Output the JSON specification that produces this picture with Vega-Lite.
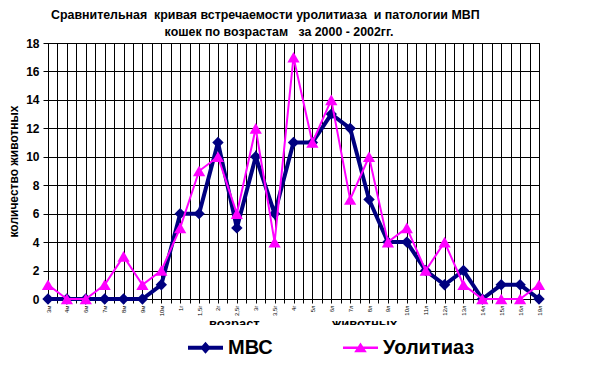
{
  "$schema": "https://vega.github.io/schema/vega-lite/v6.json",
  "width": 491,
  "height": 256,
  "autosize": "none",
  "padding": {"left": 48, "top": 43, "right": 75, "bottom": 81},
  "background": "white",
  "config": {
    "font": "Liberation Sans",
    "view": {"stroke": "black", "strokeWidth": 1}
  },
  "title": {
    "text": ["Сравнительная\u00a0 кривая встречаемости уролитиаза\u00a0 и патологии МВП", "\u200b\u00a0\u00a0\u00a0\u00a0\u00a0\u00a0\u00a0\u00a0\u00a0\u00a0\u00a0\u00a0\u00a0\u00a0\u00a0\u00a0\u00a0\u00a0\u00a0\u00a0\u00a0\u00a0\u00a0\u00a0\u00a0\u00a0\u00a0\u00a0\u00a0\u00a0\u00a0\u00a0\u00a0кошек по возрастам\u00a0\u00a0 за 2000 - 2002гг."],
    "anchor": "start",
    "frame": "group",
    "dx": 3,
    "offset": -1,
    "font": "Liberation Sans",
    "fontSize": 12.4,
    "fontWeight": "bold",
    "color": "black",
    "lineHeight": 17
  },
  "data": {
    "values": [
      {"i": 0, "age": "3м", "series": "МВС", "value": 0},
      {"i": 1, "age": "4м", "series": "МВС", "value": 0},
      {"i": 2, "age": "6м", "series": "МВС", "value": 0},
      {"i": 3, "age": "7м", "series": "МВС", "value": 0},
      {"i": 4, "age": "8м", "series": "МВС", "value": 0},
      {"i": 5, "age": "9м", "series": "МВС", "value": 0},
      {"i": 6, "age": "10м", "series": "МВС", "value": 1},
      {"i": 7, "age": "1г", "series": "МВС", "value": 6},
      {"i": 8, "age": "1,5г", "series": "МВС", "value": 6},
      {"i": 9, "age": "2г", "series": "МВС", "value": 11},
      {"i": 10, "age": "2,5г", "series": "МВС", "value": 5},
      {"i": 11, "age": "3г", "series": "МВС", "value": 10},
      {"i": 12, "age": "3,5г", "series": "МВС", "value": 6},
      {"i": 13, "age": "4г", "series": "МВС", "value": 11},
      {"i": 14, "age": "5л", "series": "МВС", "value": 11},
      {"i": 15, "age": "6л", "series": "МВС", "value": 13},
      {"i": 16, "age": "7л", "series": "МВС", "value": 12},
      {"i": 17, "age": "8л", "series": "МВС", "value": 7},
      {"i": 18, "age": "9л", "series": "МВС", "value": 4},
      {"i": 19, "age": "10л", "series": "МВС", "value": 4},
      {"i": 20, "age": "11л", "series": "МВС", "value": 2},
      {"i": 21, "age": "12л", "series": "МВС", "value": 1},
      {"i": 22, "age": "13л", "series": "МВС", "value": 2},
      {"i": 23, "age": "14л", "series": "МВС", "value": 0},
      {"i": 24, "age": "15л", "series": "МВС", "value": 1},
      {"i": 25, "age": "16л", "series": "МВС", "value": 1},
      {"i": 26, "age": "19л", "series": "МВС", "value": 0},
      {"i": 0, "age": "3м", "series": "Уолитиаз", "value": 1},
      {"i": 1, "age": "4м", "series": "Уолитиаз", "value": 0},
      {"i": 2, "age": "6м", "series": "Уолитиаз", "value": 0},
      {"i": 3, "age": "7м", "series": "Уолитиаз", "value": 1},
      {"i": 4, "age": "8м", "series": "Уолитиаз", "value": 3},
      {"i": 5, "age": "9м", "series": "Уолитиаз", "value": 1},
      {"i": 6, "age": "10м", "series": "Уолитиаз", "value": 2},
      {"i": 7, "age": "1г", "series": "Уолитиаз", "value": 5},
      {"i": 8, "age": "1,5г", "series": "Уолитиаз", "value": 9},
      {"i": 9, "age": "2г", "series": "Уолитиаз", "value": 10},
      {"i": 10, "age": "2,5г", "series": "Уолитиаз", "value": 6},
      {"i": 11, "age": "3г", "series": "Уолитиаз", "value": 12},
      {"i": 12, "age": "3,5г", "series": "Уолитиаз", "value": 4},
      {"i": 13, "age": "4г", "series": "Уолитиаз", "value": 17},
      {"i": 14, "age": "5л", "series": "Уолитиаз", "value": 11},
      {"i": 15, "age": "6л", "series": "Уолитиаз", "value": 14},
      {"i": 16, "age": "7л", "series": "Уолитиаз", "value": 7},
      {"i": 17, "age": "8л", "series": "Уолитиаз", "value": 10},
      {"i": 18, "age": "9л", "series": "Уолитиаз", "value": 4},
      {"i": 19, "age": "10л", "series": "Уолитиаз", "value": 5},
      {"i": 20, "age": "11л", "series": "Уолитиаз", "value": 2},
      {"i": 21, "age": "12л", "series": "Уолитиаз", "value": 4},
      {"i": 22, "age": "13л", "series": "Уолитиаз", "value": 1},
      {"i": 23, "age": "14л", "series": "Уолитиаз", "value": 0},
      {"i": 24, "age": "15л", "series": "Уолитиаз", "value": 0},
      {"i": 25, "age": "16л", "series": "Уолитиаз", "value": 0},
      {"i": 26, "age": "19л", "series": "Уолитиаз", "value": 1}
    ]
  },
  "encoding": {
    "x": {
      "field": "i",
      "type": "quantitative",
      "scale": {"domain": [0, 26], "nice": false, "zero": false},
      "axis": {
        "values": [0,0.5,1,1.5,2,2.5,3,3.5,4,4.5,5,5.5,6,6.5,7,7.5,8,8.5,9,9.5,10,10.5,11,11.5,12,12.5,13,13.5,14,14.5,15,15.5,16,16.5,17,17.5,18,18.5,19,19.5,20,20.5,21,21.5,22,22.5,23,23.5,24,24.5,25,25.5,26],
        "labelExpr": "datum.value % 1 === 0 ? ['3м','4м','6м','7м','8м','9м','10м','1г','1,5г','2г','2,5г','3г','3,5г','4г','5л','6л','7л','8л','9л','10л','11л','12л','13л','14л','15л','16л','19л'][datum.value] : ''",
        "labelAngle": 270,
        "labelFontSize": 6,
        "labelColor": "black",
        "labelPadding": 2,
        "labelOverlap": false,
        "labelFlush": false,
        "labelBound": false,
        "tickSize": 4,
        "tickColor": "black",
        "domainColor": "black",
        "grid": true,
        "gridColor": "black",
        "gridOpacity": 1,
        "gridWidth": 1,
        "title": "\u200b\u00a0\u00a0\u00a0\u00a0\u00a0возраст\u00a0\u00a0\u00a0\u00a0\u00a0\u00a0\u00a0\u00a0\u00a0\u00a0\u00a0\u00a0\u00a0\u00a0\u00a0\u00a0\u00a0\u00a0\u00a0\u00a0животных",
        "titleFontSize": 13,
        "titleFontWeight": "bold",
        "titleColor": "black",
        "titlePadding": 2
      }
    },
    "y": {
      "field": "value",
      "type": "quantitative",
      "scale": {"domain": [0, 18], "nice": false},
      "axis": {
        "values": [0,2,4,6,8,10,12,14,16,18],
        "labelFontSize": 12,
        "labelFontWeight": "bold",
        "labelColor": "black",
        "labelPadding": 4,
        "tickSize": 5,
        "tickColor": "black",
        "domainColor": "black",
        "grid": true,
        "gridColor": "black",
        "gridOpacity": 1,
        "gridWidth": 1,
        "title": "количество животных",
        "titleFontSize": 12,
        "titleFontWeight": "bold",
        "titleColor": "black",
        "titlePadding": 5
      }
    }
  },
  "layer": [
    {
      "transform": [{"filter": "datum.series === 'МВС'"}],
      "mark": {"type": "line", "color": "#000080", "strokeWidth": 4}
    },
    {
      "transform": [{"filter": "datum.series === 'МВС'"}],
      "mark": {"type": "point", "shape": "diamond", "filled": true, "size": 130, "color": "#000080", "opacity": 1}
    },
    {
      "transform": [{"filter": "datum.series === 'Уолитиаз'"}],
      "mark": {"type": "line", "color": "#FF00FF", "strokeWidth": 2}
    },
    {
      "transform": [{"filter": "datum.series === 'Уолитиаз'"}],
      "mark": {"type": "point", "shape": "triangle-up", "filled": true, "size": 150, "color": "#FF00FF", "opacity": 1}
    },
    {
      "mark": {"type": "point", "filled": true, "size": 0, "opacity": 1},
      "encoding": {
        "color": {
          "field": "series",
          "type": "nominal",
          "scale": {"domain": ["МВС", "Уолитиаз"], "range": ["#000080", "#FF00FF"]},
          "legend": {
            "orient": "none",
            "legendX": 135,
            "legendY": 282,
            "direction": "horizontal",
            "title": null,
            "fillColor": "white",
            "padding": 5,
            "labelFont": "Liberation Sans",
            "labelFontSize": 20,
            "labelFontWeight": "bold",
            "labelColor": "black",
            "labelOffset": 5,
            "columnPadding": 70,
            "symbolSize": 1225,
            "symbolStrokeWidth": 0,
            "symbolOpacity": 1,
            "zindex": 5
          }
        },
        "shape": {
          "field": "series",
          "type": "nominal",
          "scale": {"domain": ["МВС", "Уолитиаз"], "range": ["M-1,-0.11H1V0.11H-1Z M0,-0.34L0.3,0L0,0.34L-0.3,0Z", "M-1,-0.07H1V0.07H-1Z M0,-0.3L0.36,0.26H-0.36Z"]}
        }
      }
    }
  ]
}
